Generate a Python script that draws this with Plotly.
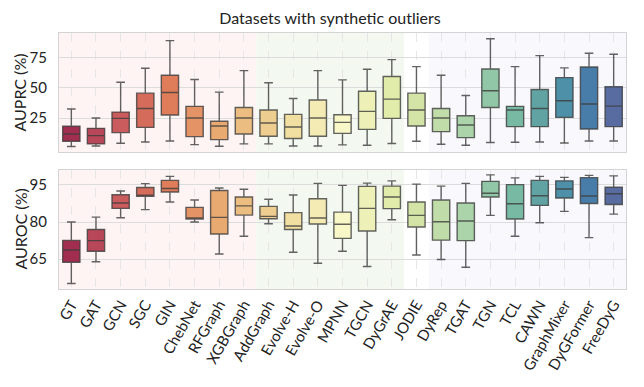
import colorsys
import plotly.graph_objects as go
from plotly.subplots import make_subplots

models = ["GT", "GAT", "GCN", "SGC", "GIN", "ChebNet", "RFGraph", "XGBGraph",
          "AddGraph", "Evolve-H", "Evolve-O", "MPNN", "TGCN", "DyGrAE", "JODIE",
          "DyRep", "TGAT", "TGN", "TCL", "CAWN", "GraphMixer", "DyGFormer", "FreeDyG"]

# AUPRC (%) box statistics
auprc_low = [1.5, 2.0, 4.2, 5.3, 6.1, 3.1, 1.8, 3.7, 3.7, 2.0, 2.0, 2.9, 2.6, 4.0, 5.9,
             3.4, 2.6, 4.8, 5.1, 5.3, 4.5, 6.1, 6.1]
auprc_q1 = [5.9, 3.7, 13.0, 17.3, 27.5, 9.7, 7.2, 11.9, 10.0, 8.1, 10.0, 12.4, 15.7, 24.7, 18.4,
            13.8, 8.9, 33.7, 17.9, 17.9, 25.5, 16.0, 17.9]
auprc_med = [11.9, 10.5, 24.7, 32.9, 46.0, 25.0, 18.4, 25.0, 20.9, 17.6, 25.0, 21.4, 30.5, 40.6, 31.6,
             25.0, 19.3, 47.4, 31.6, 32.9, 39.2, 36.5, 34.8]
auprc_q3 = [18.2, 16.5, 29.9, 45.5, 60.2, 34.6, 22.3, 33.7, 31.6, 28.0, 39.8, 27.7, 47.1, 59.2, 45.5,
            32.9, 26.9, 65.4, 34.6, 48.5, 58.3, 67.0, 50.7]
auprc_high = [32.4, 25.0, 54.5, 66.0, 88.7, 56.7, 46.3, 64.0, 54.0, 41.1, 64.0, 56.4, 65.2, 73.1, 67.3,
              60.2, 43.6, 90.3, 67.3, 76.4, 66.3, 78.3, 77.5]

# AUROC (%) box statistics
auroc_low = [55.2, 64.0, 81.7, 85.0, 88.1, 80.0, 67.1, 74.3, 79.3, 67.8, 63.4, 68.2, 62.1, 80.9, 66.7,
             64.9, 61.8, 82.7, 74.3, 79.7, 84.3, 73.7, 83.2]
auroc_q1 = [63.8, 68.2, 85.5, 90.4, 92.1, 81.2, 75.2, 82.8, 81.3, 77.0, 79.2, 73.4, 76.4, 85.4, 78.0,
            72.7, 72.5, 90.1, 81.2, 86.7, 89.7, 87.5, 87.1]
auroc_med = [68.7, 72.5, 87.7, 90.8, 93.5, 81.6, 81.9, 86.5, 82.3, 78.4, 81.6, 79.1, 85.5, 90.1, 82.7,
             80.1, 80.4, 91.6, 87.4, 90.6, 93.3, 90.5, 91.4]
auroc_q3 = [72.6, 77.0, 91.0, 93.9, 96.8, 85.9, 92.7, 90.1, 86.3, 83.8, 89.4, 84.0, 94.4, 94.5, 88.1,
            88.9, 87.7, 96.4, 95.1, 96.8, 96.6, 97.9, 94.0]
auroc_high = [80.0, 82.0, 92.5, 95.5, 98.4, 88.9, 93.7, 93.2, 89.2, 90.9, 95.6, 94.8, 95.7, 96.6, 95.3,
              94.5, 95.6, 99.0, 97.8, 98.4, 98.0, 98.8, 98.6]

auprc_ticks = [25, 50, 75]
auroc_ticks = [65, 80, 95]

# background groups (index spans)
groups = [(-0.5, 7.5, "#fef4f3"), (7.5, 13.5, "#f3f9f0"), (14.5, 22.5, "#f9f9fd")]

# Spectral colormap (desaturated like seaborn boxes)
spectral = ["#9e0142", "#d53e4f", "#f46d43", "#fdae61", "#fee08b", "#ffffbf",
            "#e6f598", "#abdda4", "#66c2a5", "#3288bd", "#5e4fa2"]


def hex2rgb(h):
    h = h.lstrip("#")
    return [int(h[i:i + 2], 16) / 255 for i in (0, 2, 4)]


def spectral_at(t):
    pos = t * (len(spectral) - 1)
    i = min(int(pos), len(spectral) - 2)
    f = pos - i
    a, b = hex2rgb(spectral[i]), hex2rgb(spectral[i + 1])
    rgb = [a[k] + (b[k] - a[k]) * f for k in range(3)]
    h, l, s = colorsys.rgb_to_hls(*rgb)
    rgb = colorsys.hls_to_rgb(h, l, s * 0.75)
    return "rgb(%d,%d,%d)" % tuple(round(c * 255) for c in rgb)


n = len(models)
colors = [spectral_at((i + 1) / (n + 1)) for i in range(n)]

fig = make_subplots(rows=2, cols=1, shared_xaxes=True, vertical_spacing=0.07)

line_col = "rgba(60,60,60,0.8)"
for row, (lo, q1, med, q3, hi) in enumerate([
        (auprc_low, auprc_q1, auprc_med, auprc_q3, auprc_high),
        (auroc_low, auroc_q1, auroc_med, auroc_q3, auroc_high)], start=1):
    for i, m in enumerate(models):
        fig.add_trace(go.Box(
            x=[m], q1=[q1[i]], median=[med[i]], q3=[q3[i]],
            lowerfence=[lo[i]], upperfence=[hi[i]],
            fillcolor=colors[i], line=dict(color=line_col, width=1.4),
            width=0.7, whiskerwidth=0.5, boxpoints=False, showlegend=False,
            hoverinfo="skip"), row=row, col=1)

for row in (1, 2):
    xref = "x" if row == 1 else "x2"
    yref = "y domain" if row == 1 else "y2 domain"
    for x0, x1, c in groups:
        fig.add_shape(type="rect", xref=xref, yref=yref, x0=x0, x1=x1, y0=0, y1=1,
                      fillcolor=c, line_width=0, layer="below")

font = "Lato, Open Sans, sans-serif"
axis_common = dict(showline=True, mirror=True, linecolor="#d4d4d4", linewidth=1.2,
                   zeroline=False, ticks="", automargin=False)
fig.update_xaxes(**axis_common, showgrid=True, gridcolor="#e6e6e6", griddash="dash",
                 gridwidth=1, range=[-0.5, 22.5], categoryorder="array",
                 categoryarray=models)
fig.update_xaxes(showticklabels=False, row=1, col=1)
fig.update_xaxes(tickangle=-60, tickfont=dict(size=15, color="#222"), row=2, col=1)
fig.update_yaxes(**axis_common, showgrid=True, gridcolor="#dcdcdc", gridwidth=1,
                 tickfont=dict(size=15, color="#222"), ticklabelstandoff=8)
fig.update_yaxes(range=[-3, 95], tickvals=auprc_ticks, row=1, col=1)
fig.update_yaxes(range=[53, 101], tickvals=auroc_ticks, row=2, col=1)

dom_top = [0.535, 1.0]
dom_bot = [0.0, 0.465]
fig.layout.yaxis.domain = dom_top
fig.layout.yaxis2.domain = dom_bot

for text, dom in [("AUPRC (%)", dom_top), ("AUROC (%)", dom_bot)]:
    fig.add_annotation(text=text, textangle=-90, xref="paper", yref="paper",
                       x=0, xshift=-39, y=(dom[0] + dom[1]) / 2, xanchor="center",
                       yanchor="middle", showarrow=False,
                       font=dict(size=16, color="#222"))

fig.update_layout(
    width=644, height=387,
    margin=dict(l=51, r=26, t=25, b=106),
    paper_bgcolor="white", plot_bgcolor="white",
    boxmode="overlay",
    font=dict(family=font, color="#222"),
    title=dict(text="Datasets with synthetic outliers", x=0.5, xanchor="center",
               y=1 - 10 / 387, yanchor="middle", font=dict(size=16, color="#222")),
)

fig.write_html("out.html")
